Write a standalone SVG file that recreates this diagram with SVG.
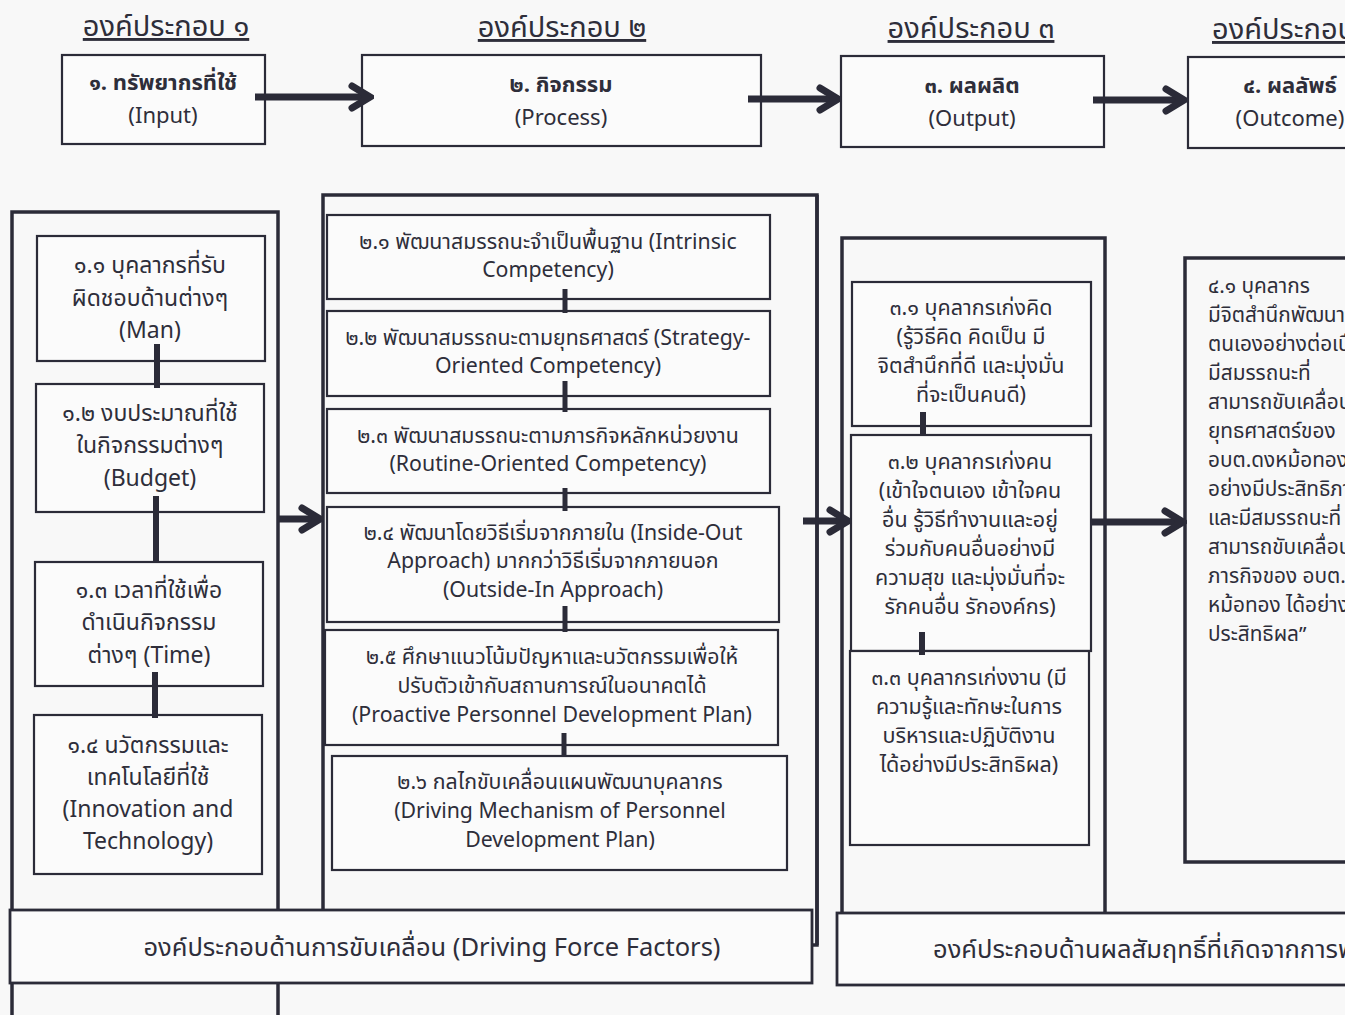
<svg xmlns="http://www.w3.org/2000/svg" width="1345" height="1015" viewBox="0 0 1345 1015">
<style>
text{font-family:"Noto Sans Thai","Noto Sans","DejaVu Sans",sans-serif;fill:#2e2e3a;}
.hd{font-size:29px;text-anchor:middle;text-decoration:underline;}
.tb{font-size:22px;text-anchor:middle;font-weight:bold;}
.tp{font-size:22px;text-anchor:middle;}
.t1{font-size:23px;text-anchor:middle;}
.t2{font-size:21.3px;text-anchor:middle;}
.t3{font-size:21.5px;text-anchor:middle;}
.tl{font-size:20.8px;text-anchor:start;}
.bar{font-size:25.5px;text-anchor:middle;}
.box{fill:#fbfbfb;stroke:#2b2b38;stroke-width:2.2;}
.outer{fill:none;stroke:#2b2b38;stroke-width:3.5;}
.link{stroke:#2b2b38;stroke-width:6;}
.link2{stroke:#2b2b38;stroke-width:5;}
.arr{stroke:#2b2b38;stroke-width:7;fill:none;}
</style>
<defs>
<marker id="ah" markerUnits="userSpaceOnUse" viewBox="0 0 30 30" refX="26" refY="15" markerWidth="30" markerHeight="30" orient="auto">
<path d="M8,4 L26,15 L8,26" fill="none" stroke="#2b2b38" stroke-width="7" stroke-linecap="round"/>
</marker>
</defs>
<rect width="1345" height="1015" fill="#f8f8f8"/>

<g id="headers">
<text class="hd" x="166" y="36">องค์ประกอบ ๑</text>
<text class="hd" x="562" y="37">องค์ประกอบ ๒</text>
<text class="hd" x="971" y="38">องค์ประกอบ ๓</text>
<text class="hd" x="1212" y="39" style="text-anchor:start">องค์ประกอบ ๔</text>
</g>

<g id="n-input"><rect class="box" x="62" y="55" width="203" height="89"/>
<text class="tb" x="163" y="90">๑. ทรัพยากรที่ใช้</text><text class="tp" x="163" y="123">(Input)</text></g>
<g id="n-process"><rect class="box" x="362" y="55" width="399" height="91"/>
<text class="tb" x="561" y="92">๒. กิจกรรม</text><text class="tp" x="561" y="125">(Process)</text></g>
<g id="n-output"><rect class="box" x="841" y="56" width="263" height="91"/>
<text class="tb" x="972" y="93">๓. ผลผลิต</text><text class="tp" x="972" y="126">(Output)</text></g>
<g id="n-outcome"><rect class="box" x="1188" y="57" width="170" height="91"/>
<text class="tb" x="1290" y="93">๔. ผลลัพธ์</text><text class="tp" x="1290" y="126">(Outcome)</text></g>

<g id="col1"><rect class="outer" x="12" y="212" width="266" height="830"/></g>
<g id="col2"><rect class="outer" x="323" y="195" width="494" height="750"/></g>
<g id="col3"><rect class="outer" x="842" y="238" width="263" height="700"/></g>
<g id="col4"><rect class="outer" x="1185" y="258" width="200" height="604"/></g>

<g id="n-1-1"><rect class="box" x="37" y="236" width="228" height="125"/>
<text class="t1" x="150" y="273">๑.๑ บุคลากรที่รับ</text><text class="t1" x="150" y="306">ผิดชอบด้านต่างๆ</text><text class="t1" x="150" y="338">(Man)</text></g>
<g id="n-1-2"><rect class="box" x="36" y="384" width="228" height="128"/>
<text class="t1" x="150" y="421">๑.๒ งบประมาณที่ใช้</text><text class="t1" x="150" y="453">ในกิจกรรมต่างๆ</text><text class="t1" x="150" y="486">(Budget)</text></g>
<g id="n-1-3"><rect class="box" x="35" y="562" width="228" height="124"/>
<text class="t1" x="149" y="598">๑.๓ เวลาที่ใช้เพื่อ</text><text class="t1" x="149" y="630">ดำเนินกิจกรรม</text><text class="t1" x="149" y="663">ต่างๆ (Time)</text></g>
<g id="n-1-4"><rect class="box" x="34" y="715" width="228" height="159"/>
<text class="t1" x="148" y="753">๑.๔ นวัตกรรมและ</text><text class="t1" x="148" y="785">เทคโนโลยีที่ใช้</text><text class="t1" x="148" y="817">(Innovation and</text><text class="t1" x="148" y="849">Technology)</text></g>

<g id="n-2-1"><rect class="box" x="327" y="215" width="443" height="84"/>
<text class="t2" x="548" y="249">๒.๑ พัฒนาสมรรถนะจำเป็นพื้นฐาน (Intrinsic</text><text class="t2" x="548" y="277">Competency)</text></g>
<g id="n-2-2"><rect class="box" x="327" y="311" width="443" height="85"/>
<text class="t2" x="548" y="345">๒.๒ พัฒนาสมรรถนะตามยุทธศาสตร์ (Strategy-</text><text class="t2" x="548" y="373">Oriented Competency)</text></g>
<g id="n-2-3"><rect class="box" x="327" y="409" width="443" height="84"/>
<text class="t2" x="548" y="443">๒.๓ พัฒนาสมรรถนะตามภารกิจหลักหน่วยงาน</text><text class="t2" x="548" y="471">(Routine-Oriented Competency)</text></g>
<g id="n-2-4"><rect class="box" x="327" y="507" width="452" height="115"/>
<text class="t2" x="553" y="540">๒.๔ พัฒนาโดยวิธีเริ่มจากภายใน (Inside-Out</text><text class="t2" x="553" y="568">Approach) มากกว่าวิธีเริ่มจากภายนอก</text><text class="t2" x="553" y="597">(Outside-In Approach)</text></g>
<g id="n-2-5"><rect class="box" x="325" y="630" width="453" height="115"/>
<text class="t2" x="552" y="664">๒.๕ ศึกษาแนวโน้มปัญหาและนวัตกรรมเพื่อให้</text><text class="t2" x="552" y="693">ปรับตัวเข้ากับสถานการณ์ในอนาคตได้</text><text class="t2" x="552" y="722">(Proactive Personnel Development Plan)</text></g>
<g id="n-2-6"><rect class="box" x="332" y="756" width="455" height="114"/>
<text class="t2" x="560" y="789">๒.๖ กลไกขับเคลื่อนแผนพัฒนาบุคลากร</text><text class="t2" x="560" y="818">(Driving Mechanism of Personnel</text><text class="t2" x="560" y="847">Development Plan)</text></g>

<g id="n-3-1"><rect class="box" x="852" y="282" width="239" height="144"/>
<text class="t3" x="971" y="315">๓.๑ บุคลากรเก่งคิด</text><text class="t3" x="971" y="344">(รู้วิธีคิด คิดเป็น มี</text><text class="t3" x="971" y="373">จิตสำนึกที่ดี และมุ่งมั่น</text><text class="t3" x="971" y="402">ที่จะเป็นคนดี)</text></g>
<g id="n-3-2"><rect class="box" x="851" y="435" width="240" height="216"/>
<text class="t3" x="970" y="469">๓.๒ บุคลากรเก่งคน</text><text class="t3" x="970" y="498">(เข้าใจตนเอง เข้าใจคน</text><text class="t3" x="970" y="527">อื่น รู้วิธีทำงานและอยู่</text><text class="t3" x="970" y="556">ร่วมกับคนอื่นอย่างมี</text><text class="t3" x="970" y="585">ความสุข และมุ่งมั่นที่จะ</text><text class="t3" x="970" y="614">รักคนอื่น รักองค์กร)</text></g>
<g id="n-3-3"><rect class="box" x="850" y="651" width="239" height="194"/>
<text class="t3" x="969" y="685">๓.๓ บุคลากรเก่งงาน (มี</text><text class="t3" x="969" y="714">ความรู้และทักษะในการ</text><text class="t3" x="969" y="743">บริหารและปฏิบัติงาน</text><text class="t3" x="969" y="772">ได้อย่างมีประสิทธิผล)</text></g>

<g id="n-4-1">
<text class="tl" x="1208" y="293">๔.๑ บุคลากร</text>
<text class="tl" x="1208" y="322">มีจิตสำนึกพัฒนา</text>
<text class="tl" x="1208" y="351">ตนเองอย่างต่อเนื่อง</text>
<text class="tl" x="1208" y="380">มีสมรรถนะที่</text>
<text class="tl" x="1208" y="409">สามารถขับเคลื่อน</text>
<text class="tl" x="1208" y="438">ยุทธศาสตร์ของ</text>
<text class="tl" x="1208" y="467">อบต.ดงหม้อทอง</text>
<text class="tl" x="1208" y="496">อย่างมีประสิทธิภาพ</text>
<text class="tl" x="1208" y="525">และมีสมรรถนะที่</text>
<text class="tl" x="1208" y="554">สามารถขับเคลื่อน</text>
<text class="tl" x="1208" y="583">ภารกิจของ อบต.ดง</text>
<text class="tl" x="1208" y="612">หม้อทอง  ได้อย่างมี</text>
<text class="tl" x="1208" y="641">ประสิทธิผล”</text>
</g>

<g id="connectors">
<line class="arr" x1="255" y1="97" x2="370" y2="97" marker-end="url(#ah)"/>
<line class="arr" x1="748" y1="99" x2="838" y2="99" marker-end="url(#ah)"/>
<line class="arr" x1="1093" y1="100" x2="1184" y2="100" marker-end="url(#ah)"/>
<line class="arr" x1="278" y1="519" x2="320" y2="519" marker-end="url(#ah)"/>
<line class="arr" x1="803" y1="521" x2="848" y2="521" marker-end="url(#ah)"/>
<line class="arr" x1="1092" y1="522" x2="1183" y2="522" marker-end="url(#ah)"/>
<line class="link" x1="157" y1="344" x2="157" y2="388"/>
<line class="link" x1="156" y1="496" x2="156" y2="563"/>
<line class="link" x1="155" y1="672" x2="155" y2="718"/>
<line class="link2" x1="565" y1="289" x2="565" y2="313"/>
<line class="link2" x1="565" y1="381" x2="565" y2="412"/>
<line class="link2" x1="565" y1="488" x2="565" y2="511"/>
<line class="link2" x1="565" y1="606" x2="565" y2="632"/>
<line class="link2" x1="564" y1="733" x2="564" y2="757"/>
<line class="link" x1="923" y1="412" x2="923" y2="436"/>
<line class="link" x1="922" y1="632" x2="922" y2="655"/>
</g>

<g id="bar-driving"><rect class="box" x="10" y="910" width="802" height="73" style="stroke-width:2.8"/>
<text class="bar" x="432" y="956">องค์ประกอบด้านการขับเคลื่อน (Driving Force Factors)</text></g>
<g id="bar-result"><rect class="box" x="837" y="913" width="530" height="72" style="stroke-width:2.8"/>
<text class="bar" x="933" y="958" style="text-anchor:start">องค์ประกอบด้านผลสัมฤทธิ์ที่เกิดจากการพัฒนา</text></g>
<line x1="817" y1="195" x2="817" y2="945" stroke="#2b2b38" stroke-width="3.5"/>
</svg>
